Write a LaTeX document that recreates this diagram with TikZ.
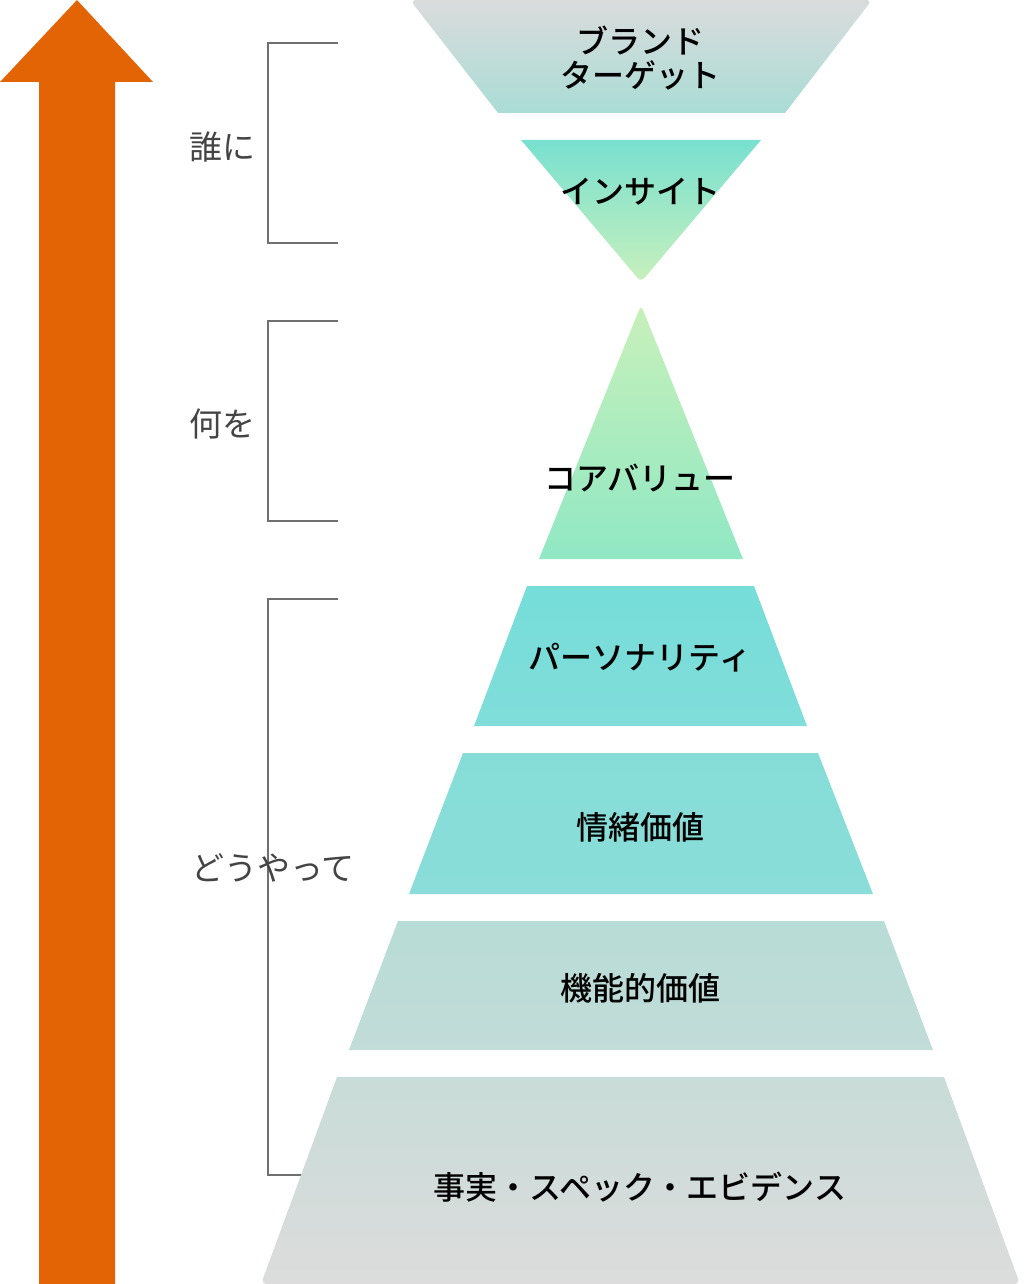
\documentclass[tikz,border=0pt]{standalone}
\usepackage{fontspec}
\setmainfont{Noto Sans CJK JP}[BoldFont={Noto Sans CJK JP Medium}]
\usetikzlibrary{shadings}

\definecolor{arroworange}{HTML}{E36405}
\definecolor{bracketgray}{HTML}{707070}
\definecolor{sidegray}{HTML}{444444}

\begin{document}
\begin{tikzpicture}[x=1pt, y=-1pt,
    layer/.style={font=\fontsize{32}{34}\selectfont\bfseries, align=center, text=black},
    side/.style={font=\fontsize{33}{34}\selectfont, text=sidegray},
    bracket/.style={draw=bracketgray, line width=1.5pt}]
      \useasboundingbox (0,0) rectangle (1024,1284);

      % Arrow
      \fill[arroworange] (39,1284) -- (39,82) -- (0,82) -- (77,0) -- (153,82)
        -- (115,82) -- (115,1284) -- cycle;

      % Brackets
      \foreach \t/\b in {43/243, 321/521, 599/1175}
        \draw[bracket] (338,\t) -- (268,\t) -- (268,\b) -- (338,\b);

      % Funnel
      \shade[top color={rgb,255:red,218;green,220;blue,220}, bottom color={rgb,255:red,170;green,220;blue,214}]
        (498,113) [rounded corners=6pt] -- (410,0) -- (872,0) [sharp corners] -- (785,113) -- cycle;
      \shade[top color={rgb,255:red,120;green,224;blue,208}, bottom color={rgb,255:red,200;green,240;blue,188}]
        (521,140) -- (761,140) [rounded corners=5pt] -- (641,282) [sharp corners] -- cycle;

      % Pyramid
      \shade[top color={rgb,255:red,200;green,240;blue,186}, bottom color={rgb,255:red,144;green,232;blue,196}]
        (539,559) [rounded corners=5pt] -- (641,305) [sharp corners] -- (743,559) -- cycle;
      \shade[top color={rgb,255:red,118;green,221;blue,216}, bottom color={rgb,255:red,128;green,221;blue,218}]
        (527,586) -- (754,586) -- (807,726) -- (474,726) -- cycle;
      \shade[top color={rgb,255:red,134;green,221;blue,216}, bottom color={rgb,255:red,138;green,221;blue,216}]
        (463,753) -- (818,753) -- (873,894) -- (409,894) -- cycle;
      \shade[top color={rgb,255:red,184;green,220;blue,214}, bottom color={rgb,255:red,194;green,220;blue,216}]
        (398,921) -- (884,921) -- (933,1050) -- (349,1050) -- cycle;
      \shade[top color={rgb,255:red,200;green,220;blue,216}, bottom color={rgb,255:red,220;green,220;blue,220}]
        (337,1077) -- (944,1077) [rounded corners=6pt] -- (1020,1284) -- (261,1284) [sharp corners] -- cycle;

      % Labels
      \node[layer] (brand) at (640,58) {ブランド\\ターゲット};
      \node[layer] (insight) at (640,192) {インサイト};
      \node[layer] (core) at (640,478) {コアバリュー};
      \node[layer] (personality) at (640,658) {パーソナリティ};
      \node[layer] (emotional) at (640,827) {情緒価値};
      \node[layer] (functional) at (640,988) {機能的価値};
      \node[layer] (facts) at (640,1187) {事実・スペック・エビデンス};

      \node[side] (whom) at (222,147) {誰に};
      \node[side] (what) at (222,424) {何を};
      \node[side] (how) at (273,868) {どうやって};
    \end{tikzpicture}
\end{document}
